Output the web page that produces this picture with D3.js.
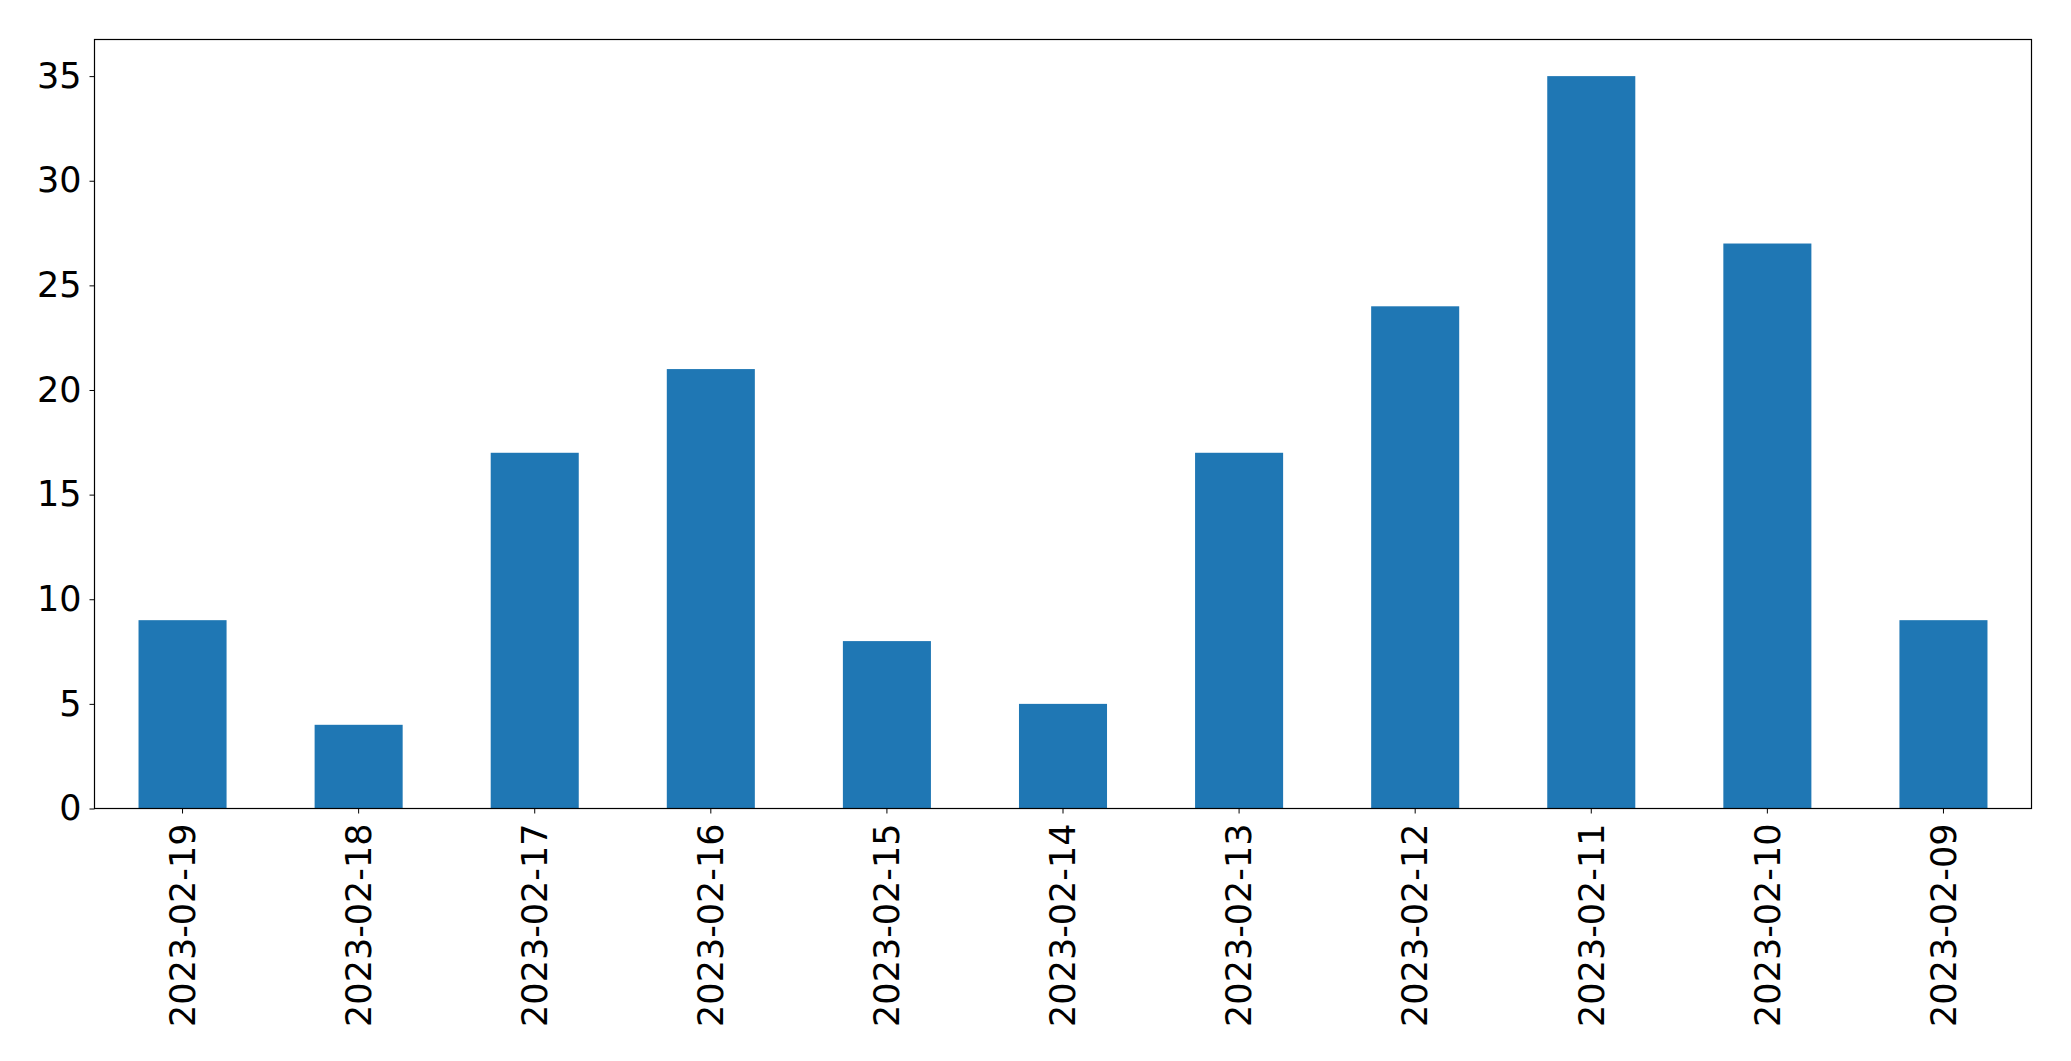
<!DOCTYPE html>
<html>
<head>
<meta charset="utf-8">
<script src="https://cdn.jsdelivr.net/npm/d3@7"></script>
<style>
  body { margin: 0; background: #fff; }
  text { font-family: "DejaVu Sans", sans-serif; }
</style>
</head>
<body>
<div id="chart-area"></div>
<script>
// values
var dates = ["2023-02-19", "2023-02-18", "2023-02-17", "2023-02-16", "2023-02-15",
             "2023-02-14", "2023-02-13", "2023-02-12", "2023-02-11", "2023-02-10", "2023-02-09"];
var counts = [9, 4, 17, 21, 8, 5, 17, 24, 35, 27, 9];
var yTicks = [0, 5, 10, 15, 20, 25, 30, 35];

var margin = { left: 94.5, right: 39.5, top: 39.5, bottom: 252.5 };
var width = 2071 - margin.left - margin.right,
    height = 1061 - margin.top - margin.bottom;

var svg = d3.select("#chart-area")
    .append("svg")
        .attr("width", 2071)
        .attr("height", 1061);
var g = svg.append("g")
    .attr("transform", "translate(" + margin.left + "," + margin.top + ")");

// scales
var x = d3.scaleBand()
    .domain(dates)
    .range([0, width])
    .paddingInner(0.5)
    .paddingOuter(0.25);
var y = d3.scaleLinear()
    .domain([0, d3.max(counts) * 1.05])
    .range([height, 0]);

// bars
g.selectAll("rect.bar")
    .data(counts)
    .enter()
    .append("rect")
        .attr("class", "bar")
        .attr("x", function(d, i) { return x(dates[i]); })
        .attr("y", function(d) { return y(d); })
        .attr("width", x.bandwidth())
        .attr("height", function(d) { return height - y(d); })
        .attr("fill", "#1f77b4");

// Y axis
var yAxisCall = d3.axisLeft(y)
    .tickValues(yTicks)
    .tickSize(5)
    .tickPadding(8);
var yAxis = g.append("g").call(yAxisCall);
yAxis.select(".domain").remove();
yAxis.selectAll("text")
    .attr("font-size", "35px")
    .attr("font-family", "DejaVu Sans")
    .attr("fill", "#000");
yAxis.selectAll("line").attr("stroke", "#000");

// X axis
var xAxisCall = d3.axisBottom(x)
    .tickSize(5)
    .tickSizeOuter(0);
var xAxis = g.append("g")
    .attr("transform", "translate(0," + height + ")")
    .call(xAxisCall);
xAxis.select(".domain").remove();
xAxis.selectAll("line").attr("stroke", "#000");
xAxis.selectAll("text")
    .attr("font-size", "35px")
    .attr("font-family", "DejaVu Sans")
    .attr("fill", "#000")
    .attr("text-anchor", "end")
    .attr("dy", "0.35em")
    .attr("x", 0)
    .attr("y", 0)
    .attr("transform", "translate(0,15) rotate(-90)");

// frame
g.append("rect")
    .attr("x", 0)
    .attr("y", 0)
    .attr("width", width)
    .attr("height", height)
    .attr("fill", "none")
    .attr("stroke", "#000")
    .attr("stroke-width", 1.2);
</script>
</body>
</html>
